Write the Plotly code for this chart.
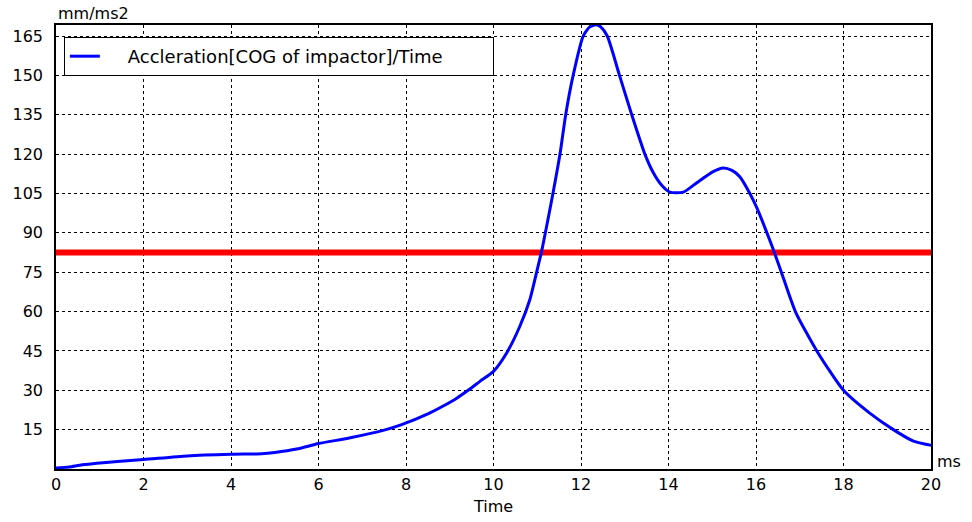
import plotly.graph_objects as go

# Acceleration of the impactor's centre of gravity over time
time_ms = [0, 0.3, 0.6, 1.4, 2, 3, 4, 4.7, 5.0, 5.5, 6, 6.7, 7.5, 7.9, 8.5,
           8.85, 9.16, 9.42, 9.69, 10, 10.3, 10.6, 10.83, 11.0, 11.1, 11.22,
           11.37, 11.52, 11.65, 11.82, 12.05, 12.2, 12.34, 12.45, 12.6, 12.88,
           13.16, 13.46, 13.65, 13.85, 14.03, 14.34, 14.64, 15.02, 15.25, 15.45,
           15.63, 15.86, 16.02, 16.25, 16.42, 16.58, 16.9, 17.39,
           18.0, 18.6, 19.14, 19.6, 20]
accel = [0.4, 0.8, 1.6, 2.9, 3.6, 5.0, 5.6, 5.8, 6.3, 7.6, 9.7, 11.8, 14.8,
         16.9, 21, 24, 27, 30, 33.4, 37.2, 44.2, 54.3, 64.5, 76, 83, 93,
         106, 120, 135, 150, 165, 168.5, 169.3, 168.5, 165, 150, 135, 120, 113,
         108, 105.5, 105.5, 109, 113.3, 114.7, 113.8, 111.4, 105, 99.5, 90,
         82.5, 75, 60, 45, 30, 21.3, 15, 10.6, 9]

threshold = 82.5
x_ticks = list(range(0, 21, 2))
y_ticks = list(range(15, 166, 15))

font = "DejaVu Sans"

fig = go.Figure()
fig.add_trace(go.Scatter(
    x=[0, 20], y=[threshold, threshold], mode="lines",
    line=dict(color="#ff0000", width=6), showlegend=False, hoverinfo="skip"))
fig.add_trace(go.Scatter(
    x=time_ms, y=accel, mode="lines",
    line=dict(color="#0000ff", width=3, shape="spline", smoothing=0.6),
    name="\u00a0\u00a0\u00a0\u00a0Accleration[COG of impactor]/Time"))

axis_common = dict(
    showline=True, linecolor="black", linewidth=1.5, mirror=True,
    showgrid=True, gridcolor="black", gridwidth=1, griddash="3px,3px",
    zeroline=False, ticks="", automargin=False,
    tickfont=dict(family=font, size=16, color="black"),
)

fig.update_xaxes(range=[0, 20], tickvals=x_ticks, **axis_common,
                 title=dict(text="Time", font=dict(family=font, size=16, color="black"),
                            standoff=8))
fig.update_yaxes(range=[0, 169.2], tickvals=y_ticks, ticklabelstandoff=8,
                 **axis_common)

fig.update_layout(
    width=972, height=522,
    margin=dict(l=56, r=41, t=25, b=53),
    paper_bgcolor="white", plot_bgcolor="white",
    font=dict(family=font, size=16, color="black"),
    legend=dict(x=0.009, y=0.973, xanchor="left", yanchor="top",
                orientation="h", entrywidth=383,
                bgcolor="white", bordercolor="black", borderwidth=1,
                font=dict(family=font, size=18, color="black")),
    annotations=[
        dict(text="mm/ms2", xref="paper", yref="paper", x=0, y=1,
             xanchor="left", yanchor="bottom", showarrow=False,
             font=dict(family=font, size=16, color="black")),
        dict(text="ms", xref="paper", yref="paper", x=1, y=0.016, xshift=4,
             xanchor="left", yanchor="middle", showarrow=False,
             font=dict(family=font, size=16, color="black")),
    ],
)

fig.write_html("out.html")
